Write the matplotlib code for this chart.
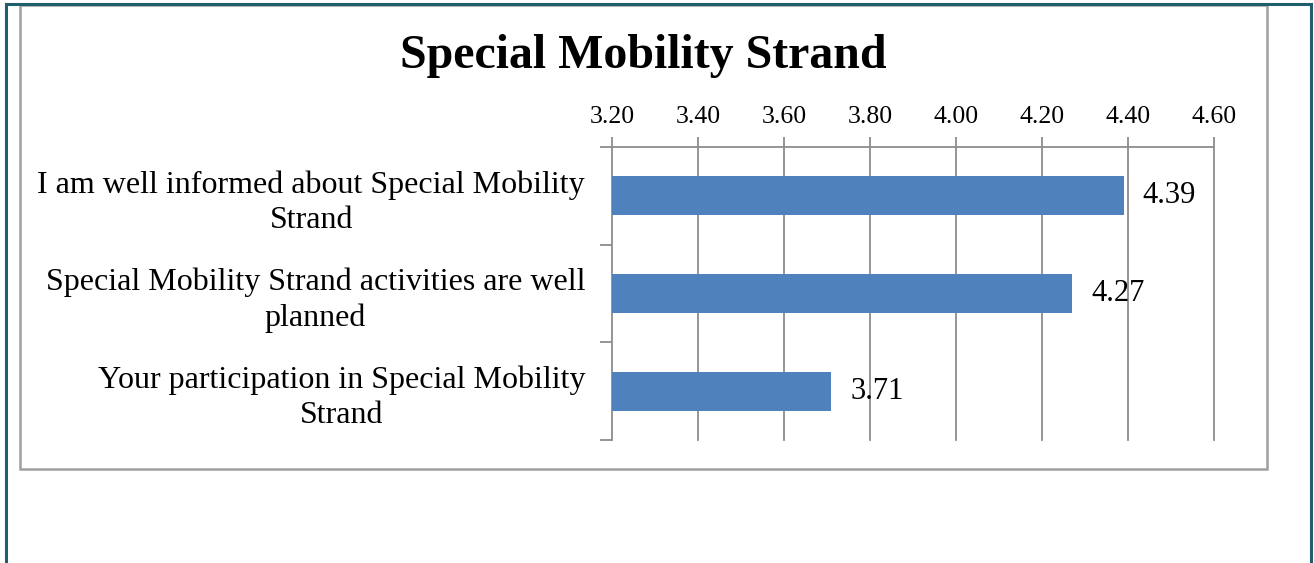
import matplotlib
matplotlib.use("Agg")
import matplotlib.pyplot as plt
from matplotlib.lines import Line2D
from matplotlib.patches import Rectangle

categories = [
    "I am well informed about Special Mobility\nStrand",
    "Special Mobility Strand activities are well\nplanned",
    "Your participation in Special Mobility\nStrand",
]
values = [4.39, 4.27, 3.71]
tick_values = [3.20, 3.40, 3.60, 3.80, 4.00, 4.20, 4.40, 4.60]
tick_labels = ["3.20", "3.40", "3.60", "3.80", "4.00", "4.20", "4.40", "4.60"]
title = "Special Mobility Strand"

plt.rcParams['font.family'] = ['Liberation Serif', 'DejaVu Serif']

W, H = 1314, 563
fig = plt.figure(figsize=(W / 100, H / 100), dpi=100)

def fx(px):
    return px / W

def fy(py):
    return 1 - py / H

# outer teal frame (left, top, right)
teal = "#1F5E6C"
fig.add_artist(Line2D([fx(5.5), fx(5.5)], [fy(563), fy(3.5)], color=teal, lw=2.2, transform=fig.transFigure))
fig.add_artist(Line2D([fx(5.5), fx(1310.5)], [fy(3.5), fy(3.5)], color=teal, lw=2.2, transform=fig.transFigure))
fig.add_artist(Line2D([fx(1310.5), fx(1310.5)], [fy(3.5), fy(563)], color=teal, lw=2.2, transform=fig.transFigure))

# inner gray chart box
fig.add_artist(Rectangle((fx(20), fy(469)), fx(1267) - fx(20), fy(5) - fy(469),
                         fill=False, edgecolor="#a0a0a0", lw=1.8, transform=fig.transFigure))

ax = fig.add_axes([fx(612), fy(440), fx(1214) - fx(612), fy(147) - fy(440)])

n = len(categories)
ypos = list(range(n))
ax.barh(ypos, values, left=0, height=0.4, color="#4F81BD", zorder=3)
ax.set_xlim(tick_values[0], tick_values[-1])
ax.set_ylim(n - 0.5, -0.5)

grid_c = "#8c8c8c"
ax.set_xticks(tick_values)
ax.set_xticklabels(tick_labels, fontsize=18.5)
ax.xaxis.tick_top()
ax.tick_params(axis="x", length=7, width=1.3, color=grid_c, pad=6.8)
ax.grid(axis="x", color=grid_c, lw=1.3, zorder=0)
for gl in ax.get_xgridlines():
    gl.set_clip_on(False)

ax.set_yticks([-0.5 + i for i in range(n + 1)], minor=True)
ax.set_yticks(ypos)
ax.set_yticklabels(categories, fontsize=23, ha="right", multialignment="center", linespacing=1.27)
ax.tick_params(axis="y", which="major", length=0, pad=19.4)
ax.tick_params(axis="y", which="minor", length=9, width=1.3, color=grid_c)

for s in ["right", "bottom", "left"]:
    ax.spines[s].set_visible(False)
ax.spines["top"].set_color(grid_c)
ax.spines["top"].set_linewidth(1.3)

for y, v in zip(ypos, values):
    ax.annotate(f"{v:.2f}", (v, y), xytext=(19, 0), textcoords="offset pixels",
                ha="left", va="center", fontsize=22, zorder=4)

ax.patch.set_alpha(0)

fig.text(fx(643.5), fy(68), title, ha="center", va="baseline", fontsize=34.5, fontweight="bold")

fig.savefig("out.png", dpi=100)
